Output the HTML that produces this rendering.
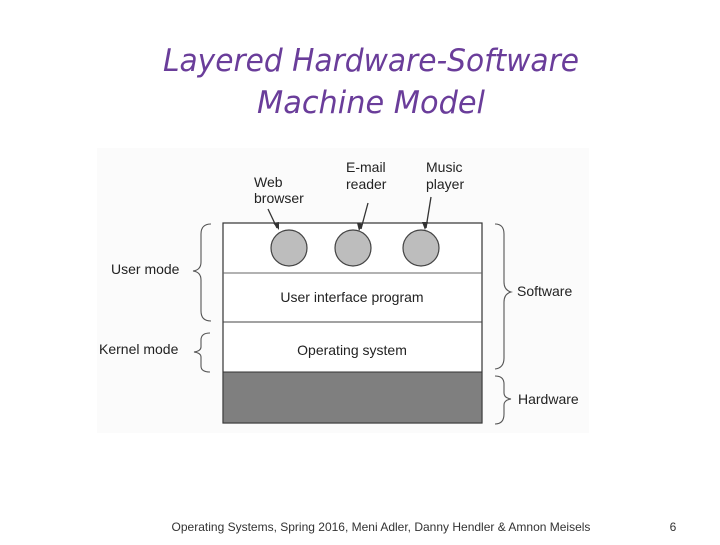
<!DOCTYPE html>
<html><head><style>
body{margin:0;width:720px;height:540px;background:#fff;overflow:hidden}
</style></head><body>
<svg width="720" height="540" xmlns="http://www.w3.org/2000/svg" font-family="Liberation Sans, sans-serif">
<rect x="97" y="148" width="492" height="285" fill="#fbfbfb"/>
<text x="371" y="71" text-anchor="middle" font-size="31" font-style="italic" fill="#6a3d9a" font-family="DejaVu Sans, sans-serif" textLength="416" lengthAdjust="spacingAndGlyphs">Layered  Hardware-Software</text>
<text x="371" y="113" text-anchor="middle" font-size="31" font-style="italic" fill="#6a3d9a" font-family="DejaVu Sans, sans-serif" textLength="228" lengthAdjust="spacingAndGlyphs">Machine Model</text>
<rect x="223" y="223" width="259" height="200" fill="#fff" stroke="#333" stroke-width="1.2"/>
<line x1="223" y1="273" x2="482" y2="273" stroke="#666"/>
<line x1="223" y1="322" x2="482" y2="322" stroke="#444"/>
<rect x="223" y="372" width="259" height="51" fill="#7f7f7f" stroke="#333"/>
<g fill="#bdbdbd" stroke="#444" stroke-width="1.2">
<circle cx="289" cy="248" r="18"/><circle cx="353" cy="248" r="18"/><circle cx="421" cy="248" r="18"/>
</g>
<g stroke="#333" stroke-width="1.3" fill="none">
<line x1="268" y1="209" x2="277" y2="228"/><line x1="368" y1="203" x2="361" y2="229"/><line x1="431" y1="197" x2="426" y2="228"/>
</g>
<g fill="#333"><polygon points="279,230 273,223 279,222"/><polygon points="359,231 357,223 363,224"/><polygon points="425,230 422,222 428,222"/></g>
<g font-size="14" fill="#222">
<text x="254" y="187">Web</text><text x="254" y="203">browser</text>
<text x="346" y="172">E-mail</text><text x="346" y="189">reader</text>
<text x="426" y="172">Music</text><text x="426" y="189">player</text>
<text x="352" y="302" text-anchor="middle">User interface program</text>
<text x="352" y="355" text-anchor="middle">Operating system</text>
<text x="111" y="274">User mode</text>
<text x="99" y="354">Kernel mode</text>
<text x="517" y="296">Software</text>
<text x="518" y="404">Hardware</text>
</g>
<g stroke="#555" stroke-width="1.1" fill="none">
<path d="M211,224 Q201,224 201,234 L201,262 Q201,270 193,271 Q201,272 201,280 L201,311 Q201,321 211,321"/>
<path d="M210,333 Q201,333 201,340 L201,347 Q201,351 194,352 Q201,353 201,357 L201,366 Q201,372 210,372"/>
<path d="M495,224 Q504,224 504,234 L504,282 Q504,290 511,292 Q504,294 504,302 L504,358 Q504,368 495,369"/>
<path d="M495,376 Q504,376 504,384 L504,393 Q504,398 511,399 Q504,400 504,405 L504,414 Q504,424 495,424"/>
</g>
<text x="381" y="531" text-anchor="middle" font-size="12" fill="#333">Operating Systems, Spring 2016, Meni Adler, Danny Hendler &amp; Amnon Meisels</text>
<text x="673" y="531" text-anchor="middle" font-size="12" fill="#333">6</text>
</svg>
</body></html>
